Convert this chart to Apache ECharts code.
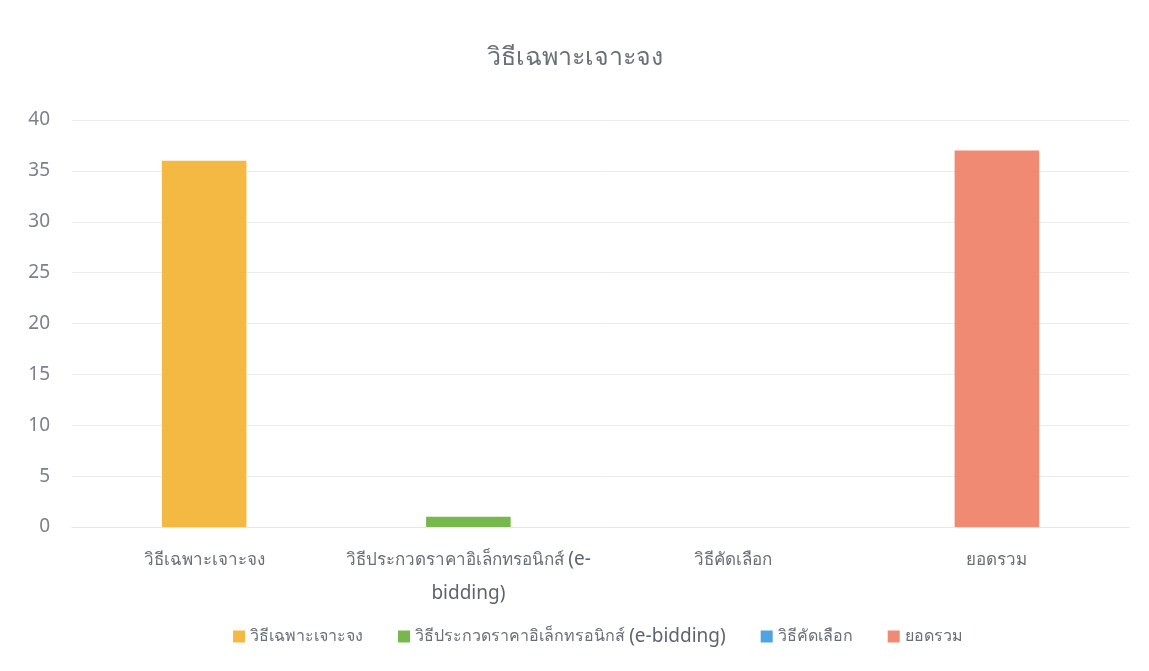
<!DOCTYPE html>
<html><head><meta charset="utf-8">
<script src="https://cdn.jsdelivr.net/npm/echarts@6/dist/echarts.min.js"></script>
<style>html,body{margin:0;padding:0;background:#fff}#c{width:1149px;height:671px}</style>
</head><body><div id="c"></div>
<script>
const categories = ['วิธีเฉพาะเจาะจง', 'วิธีประกวดราคาอิเล็กทรอนิกส์ (e-bidding)', 'วิธีคัดเลือก', 'ยอดรวม'];
const seriesNames = ['วิธีเฉพาะเจาะจง', 'วิธีประกวดราคาอิเล็กทรอนิกส์ (e-bidding)', 'วิธีคัดเลือก', 'ยอดรวม'];
const specificValues = [36, '-', '-', '-'];
const biddingValues = ['-', 1, '-', '-'];
const selectionValues = ['-', '-', 0, '-'];
const totalValues = ['-', '-', '-', 37];
const yTicks = [0, 5, 10, 15, 20, 25, 30, 35, 40];
const colors = ['#F4B942', '#76B84C', '#4FA3E3', '#F08A73'];
const values = [specificValues, biddingValues, selectionValues, totalValues];

const FONT = 'Noto Sans, sans-serif';
function xLabel(v) {
  const i = v.indexOf('(e-bidding)');
  if (i < 0) return '{th|' + v + '}';
  return '{th|' + v.slice(0, i) + '}{en|(e-}\n{en|bidding)}';
}
function legendLabel(v) {
  const i = v.indexOf('(e-bidding)');
  if (i < 0) return '{th|' + v + '}';
  return '{th|' + v.slice(0, i) + '}{en|(e-bidding)}';
}

const chart = echarts.init(document.getElementById('c'));
chart.setOption({
  animation: false,
  color: colors,
  title: { text: 'วิธีเฉพาะเจาะจง', left: 'center', top: 40,
    textStyle: { fontSize: 25, fontWeight: 'normal', color: '#6b6f78', fontFamily: FONT } },
  legend: { bottom: 20, left: 228, itemWidth: 12, itemHeight: 12, itemGap: 35, icon: 'rect',
    formatter: legendLabel,
    textStyle: { color: '#6a6e76', fontFamily: FONT,
      rich: { th: { fontSize: 16, color: '#6a6e76', fontFamily: FONT },
              en: { fontSize: 19, color: '#5f636b', fontFamily: FONT } } },
    data: seriesNames },
  grid: { left: 72, right: 20, top: 120, bottom: 144 },
  xAxis: { type: 'category', data: categories,
    axisLine: { lineStyle: { color: '#e6e6e6' } }, axisTick: { show: false },
    axisLabel: { interval: 0, color: '#6a6e76', margin: 16, formatter: xLabel,
      rich: { th: { fontSize: 17, color: '#6a6e76', fontFamily: FONT, lineHeight: 34 },
              en: { fontSize: 19, color: '#5f636b', fontFamily: FONT, lineHeight: 34 } } } },
  yAxis: { type: 'value', min: yTicks[0], max: yTicks[yTicks.length - 1], interval: 5,
    axisLine: { show: false }, axisTick: { show: false },
    splitLine: { lineStyle: { color: '#ececec' } },
    axisLabel: { fontSize: 19, color: '#7d818a', margin: 22, fontFamily: FONT } },
  series: seriesNames.map((n, i) => ({
    name: n, type: 'bar', stack: 'all', barWidth: '32%', data: values[i]
  }))
});
</script></body></html>
